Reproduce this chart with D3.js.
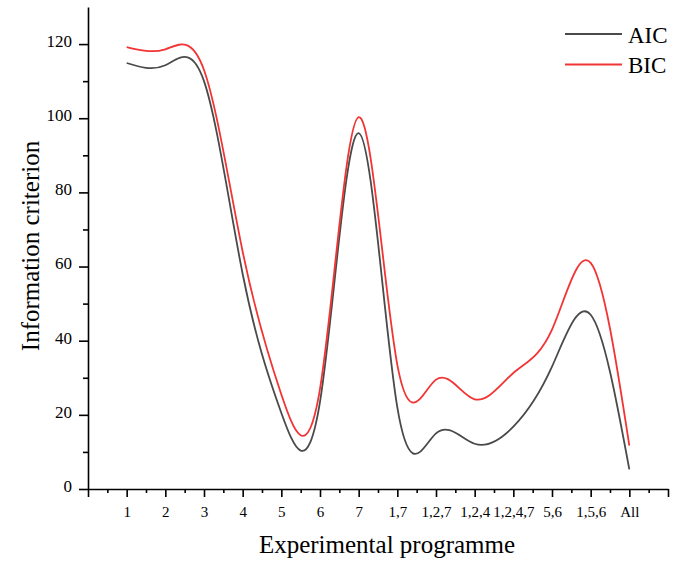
<!DOCTYPE html>
<html>
<head>
<meta charset="utf-8">
<script src="https://cdn.jsdelivr.net/npm/d3@7"></script>
<style>
  body { margin: 0; background: #fff; }
  svg text { font-family: 'Liberation Serif', 'Times New Roman', serif; fill: #000; }
</style>
</head>
<body>
<div id="chart"></div>
<script>
// experimental programmes on the x axis
const programmes = ['1', '2', '3', '4', '5', '6', '7', '1,7', '1,2,7', '1,2,4', '1,2,4,7', '5,6', '1,5,6', 'All'];
// information criterion values
const aicValues = [114.9, 114.3, 110, 58, 20.5, 23.5, 96, 22, 15, 12.2, 16.8, 33, 47, 5.3];
const bicValues = [119.2, 118.6, 113, 64, 25.5, 27, 100.3, 33.5, 29.5, 24.2, 31.3, 43, 61, 11.7];
const yTicks = [0, 20, 40, 60, 80, 100, 120];

let w = 680;
let h = 562;
let serif = "'Liberation Serif', 'Times New Roman', serif";

let xScale = d3.scaleLinear()
               .domain([0, programmes.length + 1])
               .range([88, 668]);
let yScale = d3.scaleLinear()
               .domain([0, 130])
               .range([489, 7]);

let svg = d3.select('#chart')
            .append('svg')
            .attr('width', w)
            .attr('height', h);

// minor ticks first, then the main axes over them
svg.append('g')
   .attr('transform', 'translate(0, 489)')
   .call(d3.axisBottom(xScale).tickValues(d3.range(0.5, programmes.length + 1, 1)).tickSize(4).tickFormat(''))
   .call(g => g.select('.domain').remove());
svg.append('g')
   .attr('transform', 'translate(88, 0)')
   .call(d3.axisLeft(yScale).tickValues(d3.range(10, 130, 20)).tickSize(5).tickFormat(''))
   .call(g => g.select('.domain').remove());

let xAxis = d3.axisBottom(xScale)
              .tickValues(d3.range(0, programmes.length + 2))
              .tickSize(8)
              .tickSizeOuter(0)
              .tickFormat((d) => programmes[d - 1] || '');
let yAxis = d3.axisLeft(yScale)
              .tickValues(yTicks)
              .tickSize(9)
              .tickSizeOuter(0);

let gx = svg.append('g')
            .attr('transform', 'translate(0, 489)')
            .call(xAxis)
            .attr('font-family', serif);
gx.selectAll('text')
  .attr('y', 28)
  .attr('dy', 0)
  .style('font-family', serif)
  .style('font-size', '15px');

let gy = svg.append('g')
            .attr('transform', 'translate(88, 0)')
            .call(yAxis)
            .attr('font-family', serif);
gy.selectAll('text')
  .attr('x', -16)
  .attr('dy', '0.14em')
  .style('font-family', serif)
  .style('font-size', '17px');

svg.selectAll('.domain, .tick line')
   .attr('stroke', '#000')
   .attr('stroke-width', 1.6);
svg.selectAll('.tick text').attr('fill', '#000');

let line = d3.line()
             .x((d, i) => xScale(i + 1))
             .y((d) => yScale(d))
             .curve(d3.curveNatural);

svg.append('path')
   .datum(aicValues)
   .attr('d', line)
   .attr('fill', 'none')
   .attr('stroke', '#4a4a4a')
   .attr('stroke-width', 1.8);
svg.append('path')
   .datum(bicValues)
   .attr('d', line)
   .attr('fill', 'none')
   .attr('stroke', '#f23434')
   .attr('stroke-width', 1.8);

// axis titles
svg.append('text')
   .attr('x', 387)
   .attr('y', 553)
   .attr('text-anchor', 'middle')
   .style('font-family', serif)
   .style('font-size', '25px')
   .text('Experimental programme');
svg.append('text')
   .attr('transform', 'translate(39, 246) rotate(-90)')
   .attr('text-anchor', 'middle')
   .style('font-family', serif)
   .style('font-size', '25px')
   .text('Information criterion');

// legend
let legend = svg.append('g');
let series = [{name: 'AIC', color: '#4a4a4a'}, {name: 'BIC', color: '#f23434'}];
legend.selectAll('line')
      .data(series)
      .enter()
      .append('line')
      .attr('x1', 565)
      .attr('x2', 622)
      .attr('y1', (d, i) => 34 + i * 30.5)
      .attr('y2', (d, i) => 34 + i * 30.5)
      .attr('stroke', (d) => d.color)
      .attr('stroke-width', 1.8);
legend.selectAll('text')
      .data(series)
      .enter()
      .append('text')
      .attr('x', 628)
      .attr('y', (d, i) => 42.5 + i * 30.5)
      .style('font-family', serif)
      .style('font-size', '23px')
      .text((d) => d.name);
</script>
</body>
</html>
